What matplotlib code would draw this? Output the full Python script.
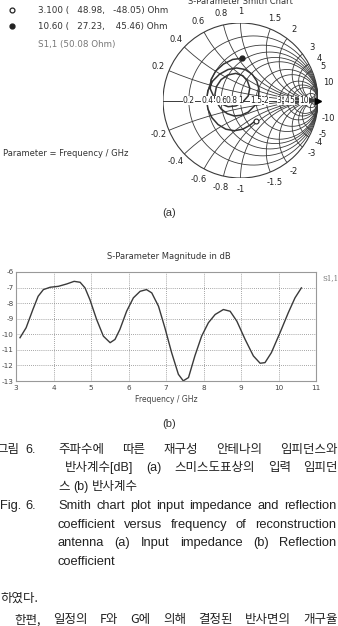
import numpy as np
import matplotlib
matplotlib.use('Agg')
import matplotlib.pyplot as plt
from matplotlib.patches import Circle

# Figure size in pixels
W, H = 338, 626

### Data

# Smith chart markers (frequency, R, X) and reference impedance
marker_labels = ['3.100 (   48.98,   -48.05) Ohm', '10.60 (   27.23,    45.46) Ohm']
marker_gamma_re = [0.195, 0.022]
marker_gamma_im = [-0.26, 0.545]
port_label = 'S1,1 (50.08 Ohm)'

# Impedance trace as reflection coefficient (estimated)
trace_re = [0.195, 0.12, 0.03, -0.08, -0.19, -0.29, -0.37, -0.42, -0.44, -0.42, -0.36,
            -0.27, -0.16, -0.05, 0.06, 0.15, 0.21, 0.24, 0.23, 0.18, 0.10, 0.01, -0.08,
            -0.17, -0.25, -0.31, -0.33, -0.31, -0.25, -0.16, -0.06, 0.03, 0.09, 0.12,
            0.10, 0.03, -0.06, -0.16, -0.26, -0.34, -0.39, -0.38, -0.32, -0.22, -0.10, 0.022]
trace_im = [-0.26, -0.32, -0.37, -0.39, -0.37, -0.31, -0.22, -0.11, 0.01, 0.13, 0.25,
            0.34, 0.40, 0.42, 0.40, 0.34, 0.25, 0.14, 0.03, -0.07, -0.15, -0.19, -0.20,
            -0.17, -0.11, -0.02, 0.08, 0.18, 0.27, 0.33, 0.35, 0.32, 0.25, 0.16,
            0.06, -0.02, -0.07, -0.08, -0.04, 0.04, 0.15, 0.27, 0.38, 0.47, 0.53, 0.545]

# Smith chart grid values
smith_r = [0.2, 0.4, 0.6, 0.8, 1, 1.5, 2, 3, 4, 5, 10]
smith_x = [0.2, 0.4, 0.6, 0.8, 1, 1.5, 2, 3, 4, 5, 10]
r_labels = ['0.2', '0.4', '0.6', '0.8', '1', '1.5', '2', '3', '4', '5', '10']
x_labels = ['0.2', '0.4', '0.6', '0.8', '1', '1.5', '2', '3', '4', '5', '10']

# S11 magnitude in dB versus frequency
freq = [3.107, 3.27, 3.45, 3.59, 3.73, 3.91, 4.13, 4.35, 4.55, 4.71, 4.84, 4.97,
        5.15, 5.33, 5.51, 5.64, 5.77, 5.95, 6.13, 6.31, 6.48, 6.62, 6.80, 6.97,
        7.15, 7.33, 7.46, 7.60, 7.77, 7.95, 8.13, 8.31, 8.53, 8.71, 8.89, 9.11,
        9.33, 9.51, 9.64, 9.81, 10.04, 10.26, 10.44, 10.61]
s11_db = [-10.22, -9.58, -8.41, -7.56, -7.13, -6.98, -6.92, -6.77, -6.60, -6.66, -7.02, -7.77,
          -9.05, -10.12, -10.54, -10.33, -9.69, -8.52, -7.66, -7.24, -7.13, -7.34, -8.20, -9.58,
          -11.18, -12.57, -12.99, -12.78, -11.39, -10.12, -9.26, -8.73, -8.41, -8.52, -9.16, -10.33,
          -11.39, -11.86, -11.82, -11.18, -9.90, -8.62, -7.66, -7.02]
freq_ticks = [3, 4, 5, 6, 7, 8, 9, 10, 11]
db_ticks = [-6, -7, -8, -9, -10, -11, -12, -13]

### Figure

fig = plt.figure(figsize=(W / 100, H / 100), dpi=100)
fig.patch.set_facecolor('white')
sans = ['DejaVu Sans', 'Noto Sans CJK KR']
cap_font = ['Liberation Sans', 'Noto Sans CJK KR']
kr_font = ['Noto Sans CJK KR', 'DejaVu Sans']
grid_col = '#3a3a3a'


def px(x, y):
    # pixel position -> figure fraction
    return x / W, 1 - y / H


def ftext(x, y, s, **kw):
    fx, fy = px(x, y)
    return fig.text(fx, fy, s, **kw)


### (a) Smith chart
cx, cy, rad = 240.5, 100.5, 77.5
ax_s = fig.add_axes([(cx - rad) / W, 1 - (cy + rad) / H, 2 * rad / W, 2 * rad / H])
ax_s.set_xlim(-1, 1)
ax_s.set_ylim(-1, 1)
ax_s.set_aspect('auto')
ax_s.axis('off')

outer = Circle((0, 0), 1, transform=ax_s.transData, fill=False, ec=grid_col, lw=0.8)
ax_s.add_patch(outer)
clip = Circle((0, 0), 1, transform=ax_s.transData, fill=False, lw=0)
ax_s.add_patch(clip)

t = np.linspace(0, 2 * np.pi, 400)
for r in smith_r + [20]:
    c = r / (1 + r)
    rr = 1 / (1 + r)
    ax_s.plot(c + rr * np.cos(t), rr * np.sin(t), color=grid_col, lw=0.6)
for xv in smith_x + [20]:
    for s in (1, -1):
        line, = ax_s.plot(1 + np.cos(t) / xv, s / xv + np.sin(t) / xv, color=grid_col, lw=0.6)
        line.set_clip_path(clip)
ax_s.plot([-1, 1], [0, 0], color=grid_col, lw=0.7)
ax_s.plot([1], [0], marker='>', color='black', ms=4, clip_on=False)

# resistance labels along real axis
for r, lab in zip(smith_r, r_labels):
    ax_s.text((r - 1) / (r + 1), 0, lab, fontsize=5.5, ha='center', va='center', color='#222',
              family=sans, bbox=dict(fc='white', ec='none', pad=0.2))
# reactance labels round the outside
for xv, lab in zip(smith_x, x_labels):
    g = (1j * xv - 1) / (1j * xv + 1)
    for s in (1, -1):
        gg = complex(g.real, s * g.imag) * 1.15
        ax_s.text(gg.real, gg.imag, lab if s > 0 else '-' + lab, fontsize=6, ha='center',
                  va='center', color='#222', family=sans, clip_on=False)

ax_s.plot(trace_re, trace_im, color='#333333', lw=1.1)
ax_s.plot(marker_gamma_re[0], marker_gamma_im[0], 'o', mfc='white', mec='#222', ms=3.5, mew=0.8)
ax_s.plot(marker_gamma_re[1], marker_gamma_im[1], 'o', mfc='#222', mec='#222', ms=3.5)

ftext(240, 2, 'S-Parameter Smith Chart', fontsize=6, ha='center', va='center', color='#333', family=sans)

# legend entries top left
ax_leg = fig.add_axes([0, 0, 1, 1])
ax_leg.set_xlim(0, W)
ax_leg.set_ylim(H, 0)
ax_leg.axis('off')
ax_leg.plot(12, 10, 'o', mfc='white', mec='#222', ms=3.5, mew=0.9)
ax_leg.plot(12, 26, 'o', mfc='#222', mec='#222', ms=3.5)
ftext(38, 10, marker_labels[0], fontsize=6.3, va='center', color='#333', family=sans)
ftext(38, 26, marker_labels[1], fontsize=6.3, va='center', color='#333', family=sans)
ftext(38, 44, port_label, fontsize=6.3, va='center', color='#777', family=sans)
ftext(3, 153, 'Parameter = Frequency / GHz', fontsize=6, va='center', color='#333', family=sans)
ftext(169, 213, '(a)', fontsize=8, ha='center', va='center', color='#333', family=cap_font)

### (b) S11 magnitude
left, right, top, bottom = 16, 316, 272, 381
ax_m = fig.add_axes([left / W, 1 - bottom / H, (right - left) / W, (bottom - top) / H])
ax_m.plot(freq, s11_db, color='#3a3a3a', lw=1.0)
ax_m.set_xlim(3, 11)
ax_m.set_ylim(-13, -6)
ax_m.set_xticks(freq_ticks)
ax_m.set_xticklabels([str(v) for v in freq_ticks])
ax_m.set_yticks(db_ticks)
ax_m.set_yticklabels([str(v) for v in db_ticks])
ax_m.tick_params(labelsize=5.2, length=0, colors='#444')
ax_m.tick_params(axis='y', pad=1.5)
ax_m.tick_params(axis='x', pad=3)
for lab in ax_m.get_xticklabels() + ax_m.get_yticklabels():
    lab.set_family(sans)
ax_m.grid(True, ls=(0, (1, 1.5)), color='#888', lw=0.6)
for sp in ax_m.spines.values():
    sp.set_color('#999')
    sp.set_linewidth(0.8)

ftext(169, 257, 'S-Parameter Magnitude in dB', fontsize=6, ha='center', va='center', color='#333', family=sans)
ftext(322, 278, 'S1,1', fontsize=5, va='center', color='#777', family='DejaVu Serif')
ftext(166, 399, 'Frequency / GHz', fontsize=5.5, ha='center', va='center', color='#444', family=sans)
ftext(169, 424, '(b)', fontsize=8, ha='center', va='center', color='#333', family=cap_font)

### Caption text, justified word by word
fig.canvas.draw()
renderer = fig.canvas.get_renderer()


def put_line(words, y, x0, x1=None, size=9, family=cap_font, gap=3.5):
    texts = [ftext(0, y, w, fontsize=size, va='center', color='#222', family=family) for w in words]
    widths = [tx.get_window_extent(renderer).width for tx in texts]
    if x1 is not None and len(words) > 1:
        gap = (x1 - x0 - sum(widths)) / (len(words) - 1)
    x = x0
    for tx, w in zip(texts, widths):
        tx.set_position(px(x, y))
        x += w + gap


put_line(['그림'], 450, -4)
put_line(['6.'], 450, 25)
put_line('주파수에 따른 재구성 안테나의 임피던스와'.split(), 450, 58, 338)
put_line('반사계수[dB] (a) 스미스도표상의 입력 임피던'.split(), 468, 65, 338)
put_line('스 (b) 반사계수'.split(), 487, 58)
put_line(['Fig.'], 506, 0, size=9.3)
put_line(['6.'], 506, 25, size=9.3)
put_line('Smith chart plot input impedance and reflection'.split(), 506, 58, 336, size=9.3)
put_line('coefficient versus frequency of reconstruction'.split(), 525, 58, 336, size=9.3)
put_line('antenna (a) Input impedance (b) Reflection'.split(), 543, 58, 336, size=9.3)
put_line(['coefficient'], 562, 58, size=9.3)
put_line(['하였다.'], 598, 0, family=kr_font)
put_line('한편, 일정의 F와 G에 의해 결정된 반사면의 개구율'.split(), 620, 14, 338, family=kr_font)

fig.savefig('out.png', dpi=100)
